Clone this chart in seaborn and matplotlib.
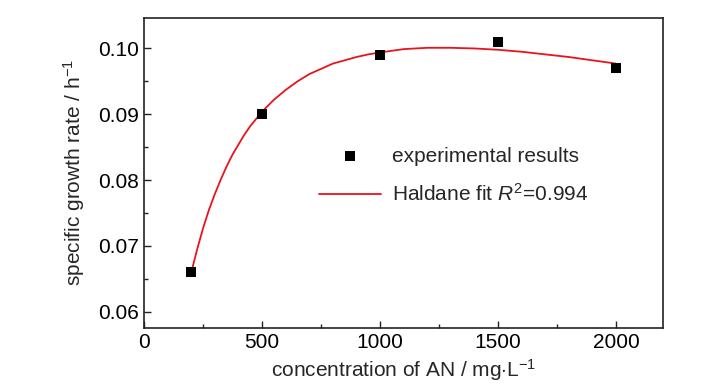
import numpy as np
import matplotlib
matplotlib.use("Agg")
import matplotlib.pyplot as plt
from matplotlib import font_manager
from matplotlib.ticker import MultipleLocator, FormatStrFormatter
import seaborn as sns

# experimental points
conc = [200, 500, 1000, 1500, 2000]
rate = [0.066, 0.090, 0.099, 0.101, 0.097]

# Haldane fit curve
fit_conc = [200, 225, 250, 275, 300, 325, 350, 375, 400, 425, 450, 475, 500,
            550, 600, 650, 700, 750, 800, 850, 900, 950, 1000, 1100, 1200,
            1300, 1400, 1500, 1600, 1700, 1800, 1900, 2000]
fit_rate = [0.0660, 0.0695, 0.0727, 0.0755, 0.0779, 0.0801, 0.0821, 0.0839,
            0.0854, 0.0869, 0.0882, 0.0893, 0.0904, 0.0922, 0.0937, 0.0950,
            0.0961, 0.0969, 0.0977, 0.0982, 0.0987, 0.0991, 0.0994, 0.0999,
            0.1001, 0.1001, 0.1000, 0.0998, 0.0995, 0.0991, 0.0987, 0.0982,
            0.0977]

sns.set_style("ticks")
names = {f.name for f in font_manager.fontManager.ttflist}
fam = "Liberation Sans Narrow" if "Liberation Sans Narrow" in names else "Liberation Sans"
plt.rcParams['font.family'] = [fam, 'DejaVu Sans']
plt.rcParams['mathtext.fontset'] = 'custom'
plt.rcParams['mathtext.rm'] = fam
plt.rcParams['mathtext.it'] = fam + ':italic'

fig = plt.figure(figsize=(7.28, 3.90), dpi=100)
ax = fig.add_axes([0.198, 0.159, 0.713, 0.796])

sns.lineplot(x=fit_conc, y=fit_rate, ax=ax, color='#e8141c', linewidth=1.3,
             label=r'Haldane fit $\it{R}^2$=0.994')
sns.scatterplot(x=conc, y=rate, ax=ax, marker='s', s=60, color='black',
                edgecolor='black', linewidth=0, label='experimental results', zorder=3)

ax.set_xlim(0, 2200)
ax.set_ylim(0.0575, 0.1047)
ax.xaxis.set_major_locator(MultipleLocator(500))
ax.xaxis.set_minor_locator(MultipleLocator(250))
ax.yaxis.set_major_locator(MultipleLocator(0.01))
ax.yaxis.set_minor_locator(MultipleLocator(0.005))
ax.yaxis.set_major_formatter(FormatStrFormatter('%.2f'))
ax.tick_params(which='both', direction='in', colors='#222222', labelcolor='black',
               labelsize=15, top=False, right=False)
ax.tick_params(which='major', length=5, width=1)
ax.tick_params(which='minor', length=3, width=1)
for sp in ax.spines.values():
    sp.set_color('#222222')
    sp.set_linewidth(1.2)

ax.set_xlabel(r'concentration of AN / mg$\cdot$L$^{-1}$', fontsize=15, labelpad=4)
ax.set_ylabel(r'specific growth rate / h$^{-1}$', fontsize=15, labelpad=8)

h, l = ax.get_legend_handles_labels()
ax.legend(h[::-1], l[::-1], loc='upper left', bbox_to_anchor=(0.30, 0.645),
          frameon=False, fontsize=15, handlelength=3.0, handletextpad=0.5,
          labelspacing=0.85, markerscale=1.0)

fig.savefig('out.png', dpi=100)
